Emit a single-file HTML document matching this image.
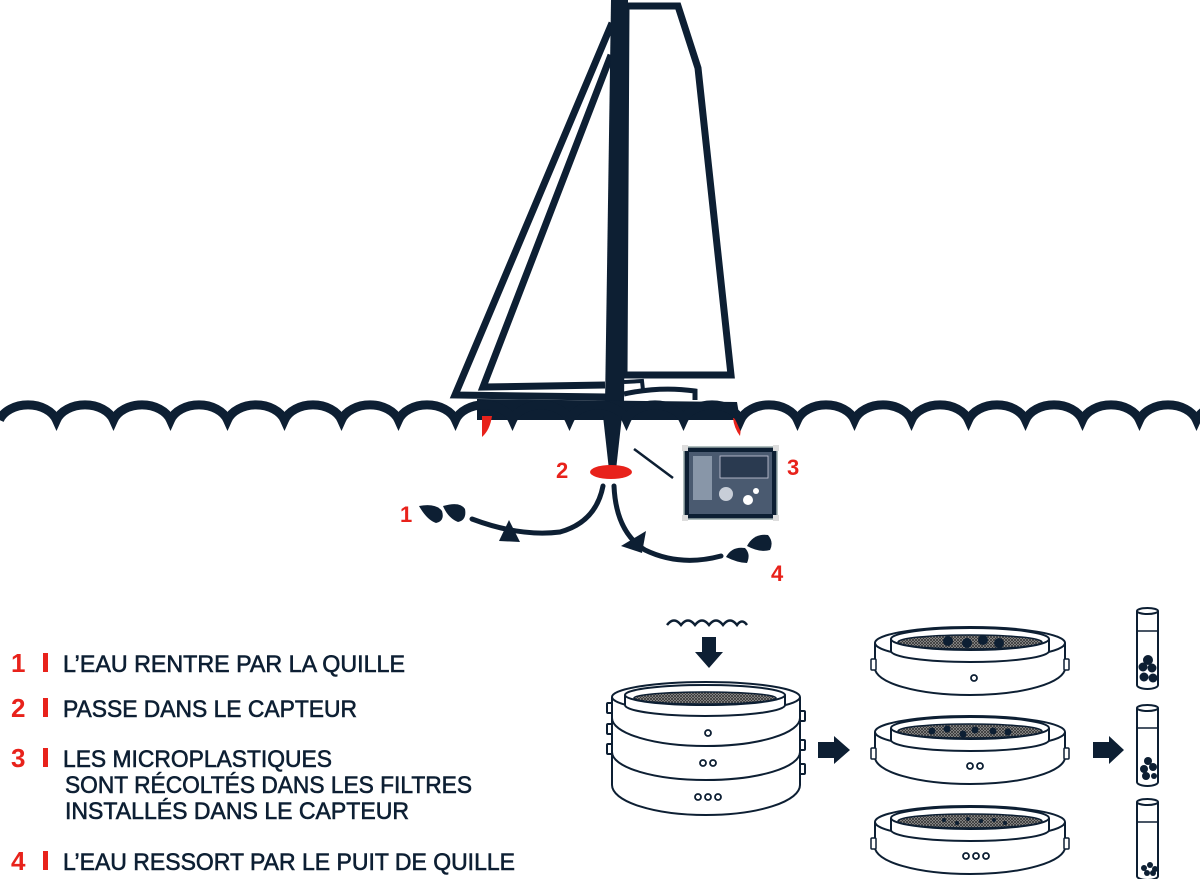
<!DOCTYPE html>
<html><head><meta charset="utf-8"><style>
html,body{margin:0;padding:0;background:#fff;width:1200px;height:879px;overflow:hidden}
svg{display:block}
text{font-family:"Liberation Sans",sans-serif}
</style></head><body>
<svg width="1200" height="879" viewBox="0 0 1200 879" xmlns="http://www.w3.org/2000/svg">
<defs>
<pattern id="mesh" width="3" height="3" patternUnits="userSpaceOnUse"><rect width="3" height="3" fill="#aaa"/><path d="M0 0L3 3M3 0L0 3" stroke="#333" stroke-width="0.8"/></pattern>
<g id="filt">
 <path d="M-95,0 L-95,25 A95,27 0 0 0 95,25 L95,0" fill="#fff" stroke="#0d1f33" stroke-width="2"/>
 <ellipse cx="0" cy="0" rx="95" ry="16" fill="#fff" stroke="#0d1f33" stroke-width="2"/>
 <path d="M-79,-4 L-79,8 A79,11 0 0 0 79,8 L79,-4" fill="#fff" stroke="#0d1f33" stroke-width="2"/>
 <ellipse cx="0" cy="-4" rx="79" ry="11" fill="#fff" stroke="#0d1f33" stroke-width="2"/>
 <ellipse cx="0" cy="-1" rx="72" ry="7" fill="url(#mesh)" stroke="#0d1f33" stroke-width="1.5"/>
 <rect x="-99" y="16" width="5" height="11" rx="1" fill="#fff" stroke="#0d1f33" stroke-width="1.5"/>
 <rect x="94" y="16" width="5" height="11" rx="1" fill="#fff" stroke="#0d1f33" stroke-width="1.5"/>
</g>
<g id="tube">
 <path d="M0,0 L0,74 A10.5,4 0 0 0 21,74 L21,0" fill="#fff" stroke="#0d1f33" stroke-width="2"/>
 <ellipse cx="10.5" cy="0" rx="10.5" ry="3" fill="#fff" stroke="#0d1f33" stroke-width="2"/>
 <line x1="0" y1="20" x2="21" y2="20" stroke="#0d1f33" stroke-width="1.5"/>
</g>
</defs>

<!-- Sails -->
<g fill="none" stroke="#0d1f33" stroke-width="7" stroke-linejoin="miter">
 <polygon points="626,6 678,6 698,68 731,375 624,375"/>
 <path d="M612,23 L455,395 L607,397"/>
 <path d="M611,55 L483,387 L605,385"/>
</g>
<!-- mast -->
<polygon points="611,0 628,0 624,405 605,405" fill="#0d1f33"/>
<path d="M624,382 L642,381 L643,390" fill="none" stroke="#0d1f33" stroke-width="4"/>
<path d="M624,394 Q660,386 695,391 L695,400" fill="none" stroke="#0d1f33" stroke-width="5"/>
<!-- hull -->
<polygon points="477,399 737,402 740,420 477,420" fill="#0d1f33"/>
<!-- red fins -->
<path d="M482,416 L492,416 Q490,430 482,437 Z" fill="#e8221b"/>
<path d="M733,418 L741,418 Q741,430 740,436 Q734,428 733,418 Z" fill="#e8221b"/>
<!-- waves: rounded tops, cusps at bottom -->
<path d="M-0.5,422 A30,22 0 0 1 56.5,422 A30,22 0 0 1 113.5,422 A30,22 0 0 1 170.5,422 A30,22 0 0 1 227.5,422 A30,22 0 0 1 284.5,422 A30,22 0 0 1 341.5,422 A30,22 0 0 1 398.5,422 A30,22 0 0 1 455.5,422 A30,22 0 0 1 512.5,422 A30,22 0 0 1 569.5,422 A30,22 0 0 1 626.5,422 A30,22 0 0 1 683.5,422 A30,22 0 0 1 740.5,422 A30,22 0 0 1 797.5,422 A30,22 0 0 1 854.5,422 A30,22 0 0 1 911.5,422 A30,22 0 0 1 968.5,422 A30,22 0 0 1 1025.5,422 A30,22 0 0 1 1082.5,422 A30,22 0 0 1 1139.5,422 A30,22 0 0 1 1196.5,422 A30,22 0 0 1 1253.5,422" fill="none" stroke="#0d1f33" stroke-width="9" transform="translate(0,-2)"/>
<!-- keel -->
<polygon points="603,416 622,416 616,470 609,470" fill="#0d1f33"/>
<ellipse cx="611" cy="472" rx="21" ry="7" fill="#e8221b"/>
<!-- sensor -->
<line x1="634" y1="449" x2="673" y2="478" stroke="#0d1f33" stroke-width="2.5"/>
<rect x="684" y="447" width="93" height="72" fill="#0d1f33" stroke="#9aa" stroke-width="1.5"/>
<rect x="689" y="452" width="83" height="62" fill="#4a5a70"/>
<rect x="720" y="456" width="48" height="22" fill="#2a3a50" stroke="#ccd" stroke-width="0.8"/>
<path d="M693,456 L712,456 L712,500 L693,500 Z" fill="#8896a8"/>
<circle cx="726" cy="494" r="7" fill="#c8ced8"/>
<circle cx="748" cy="500" r="5" fill="#fff"/><circle cx="756" cy="491" r="3" fill="#fff"/>
<rect x="682" y="445" width="6" height="6" fill="#ddd"/><rect x="773" y="445" width="6" height="6" fill="#ddd"/>
<rect x="682" y="515" width="6" height="6" fill="#ddd"/><rect x="773" y="515" width="6" height="6" fill="#ddd"/>
<!-- flow arrows -->
<g fill="none" stroke="#0d1f33" stroke-width="5" stroke-linecap="round">
 <path d="M472,519 Q520,537 560,532 Q596,522 603,486"/>
 <path d="M614,486 Q616,532 645,550 Q680,567 721,556"/>
</g>
<polygon points="509,520 520,542 499,541" fill="#0d1f33"/>
<polygon points="646,531 642,553 621,546" fill="#0d1f33"/>
<!-- drops -->
<g fill="#0d1f33">
 <path d="M419,506 Q436,503 442,511 Q445,521 436,523 Q427,520 419,506 Z"/>
 <path d="M443,506 Q460,501 465,509 Q467,520 458,522 Q448,518 443,506 Z"/>
 <path d="M726,557 Q732,546 745,548 Q751,554 747,563 Q738,563 726,557 Z"/>
 <path d="M747,546 Q754,533 768,535 Q774,542 770,550 Q760,553 747,546 Z"/>
</g>
<g fill="#e8221b" font-weight="bold" font-size="22">
 <text x="400" y="522">1</text>
 <text x="556" y="478">2</text>
 <text x="787" y="475">3</text>
 <text x="771" y="581">4</text>
</g>
<!-- legend -->
<g fill="#e8221b" font-size="26" font-weight="bold">
 <text x="11" y="672">1</text><rect x="43" y="653" width="5" height="19"/>
 <text x="11" y="717">2</text><rect x="43" y="698" width="5" height="19"/>
 <text x="11" y="767">3</text><rect x="43" y="748" width="5" height="19"/>
 <text x="11" y="870">4</text><rect x="43" y="851" width="5" height="19"/>
</g>
<g fill="#0d1f33" stroke="#0d1f33" stroke-width="0.6" font-size="24">
 <text x="63" y="672" textLength="342" lengthAdjust="spacingAndGlyphs">L’EAU RENTRE PAR LA QUILLE</text>
 <text x="63" y="717" textLength="294" lengthAdjust="spacingAndGlyphs">PASSE DANS LE CAPTEUR</text>
 <text x="63" y="767" textLength="269" lengthAdjust="spacingAndGlyphs">LES MICROPLASTIQUES</text>
 <text x="65" y="793" textLength="407" lengthAdjust="spacingAndGlyphs">SONT RÉCOLTÉS DANS LES FILTRES</text>
 <text x="65" y="819" textLength="344" lengthAdjust="spacingAndGlyphs">INSTALLÉS DANS LE CAPTEUR</text>
 <text x="63" y="870" textLength="452" lengthAdjust="spacingAndGlyphs">L’EAU RESSORT PAR LE PUIT DE QUILLE</text>
</g>
<!-- small wave + down arrow -->
<path d="M667,625 Q674,616 681,625 Q688,616 695,625 Q702,616 709,625 Q716,616 723,625 Q730,616 737,625 Q742,618 747,625" fill="none" stroke="#0d1f33" stroke-width="2.5"/>
<polygon points="702,637 716,637 716,652 723,652 709,668 695,652 702,652" fill="#0d1f33"/>
<!-- stack -->
<g stroke="#0d1f33" stroke-width="2" fill="#fff">
 <path d="M612,697 L612,785 A94,30 0 0 0 800,785 L800,697" />
 <path d="M612,752 A94,28 0 0 0 800,752" fill="none"/>
 <path d="M612,718 A94,28 0 0 0 800,718" fill="none"/>
 <ellipse cx="706" cy="697" rx="94" ry="15"/>
 <path d="M625,695 L625,705 A80,11 0 0 0 785,705 L785,695" />
 <ellipse cx="705" cy="695" rx="80" ry="10"/>
 <ellipse cx="705" cy="698" rx="71" ry="6" fill="url(#mesh)" stroke-width="1.5"/>
 <rect x="607" y="703" width="5" height="10" rx="1"/><rect x="607" y="724" width="5" height="10" rx="1"/><rect x="607" y="744" width="5" height="10" rx="1"/>
 <rect x="800" y="711" width="5" height="10" rx="1"/><rect x="800" y="740" width="5" height="10" rx="1"/><rect x="800" y="764" width="5" height="10" rx="1"/>
 <g stroke-width="1.8" fill="none">
  <circle cx="708" cy="733" r="3"/>
  <circle cx="703" cy="763" r="3"/><circle cx="713" cy="763" r="3"/>
  <circle cx="698" cy="797" r="3"/><circle cx="708" cy="797" r="3"/><circle cx="718" cy="797" r="3"/>
 </g>
</g>
<!-- arrows -->
<polygon points="818,742 834,742 834,736 850,750 834,764 834,758 818,758" fill="#0d1f33"/>
<polygon points="1093,742 1109,742 1109,736 1124,750 1109,764 1109,758 1093,758" fill="#0d1f33"/>
<!-- three filters -->
<use href="#filt" x="970" y="643"/>
<use href="#filt" x="970" y="732"/>
<use href="#filt" x="970" y="822"/>
<g fill="#0d1f33">
 <circle cx="948" cy="641" r="5"/><circle cx="967" cy="643" r="5"/><circle cx="983" cy="640" r="5"/><circle cx="999" cy="643" r="5"/>
 <circle cx="932" cy="731" r="3.5"/><circle cx="947" cy="729" r="3.5"/><circle cx="963" cy="734" r="3.5"/><circle cx="975" cy="730" r="3.5"/><circle cx="993" cy="731" r="3.5"/><circle cx="1008" cy="732" r="3.5"/>
 <circle cx="944" cy="820" r="2"/><circle cx="957" cy="823" r="2"/><circle cx="968" cy="819" r="2"/><circle cx="981" cy="821" r="2"/><circle cx="994" cy="820" r="2"/><circle cx="1005" cy="823" r="2"/>
</g>
<g stroke="#0d1f33" stroke-width="1.8" fill="none">
 <circle cx="974" cy="678" r="3"/>
 <circle cx="970" cy="766" r="3"/><circle cx="980" cy="766" r="3"/>
 <circle cx="966" cy="856" r="3"/><circle cx="976" cy="856" r="3"/><circle cx="986" cy="856" r="3"/>
</g>
<!-- tubes -->
<use href="#tube" x="1137" y="611"/>
<use href="#tube" x="1137" y="708"/>
<use href="#tube" x="1137" y="802"/>
<g fill="#0d1f33">
 <circle cx="1148" cy="660" r="5"/><circle cx="1143" cy="667" r="4.5"/><circle cx="1152" cy="668" r="4.5"/><circle cx="1144" cy="677" r="4.5"/><circle cx="1153" cy="678" r="4.5"/>
 <circle cx="1148" cy="761" r="4"/><circle cx="1144" cy="769" r="4"/><circle cx="1153" cy="767" r="4"/><circle cx="1146" cy="776" r="4"/><circle cx="1154" cy="776" r="3"/>
 <circle cx="1144" cy="868" r="3"/><circle cx="1150" cy="865" r="3"/><circle cx="1155" cy="869" r="3"/><circle cx="1147" cy="873" r="3"/><circle cx="1153" cy="873" r="3"/>
</g>
</svg>
</body></html>
